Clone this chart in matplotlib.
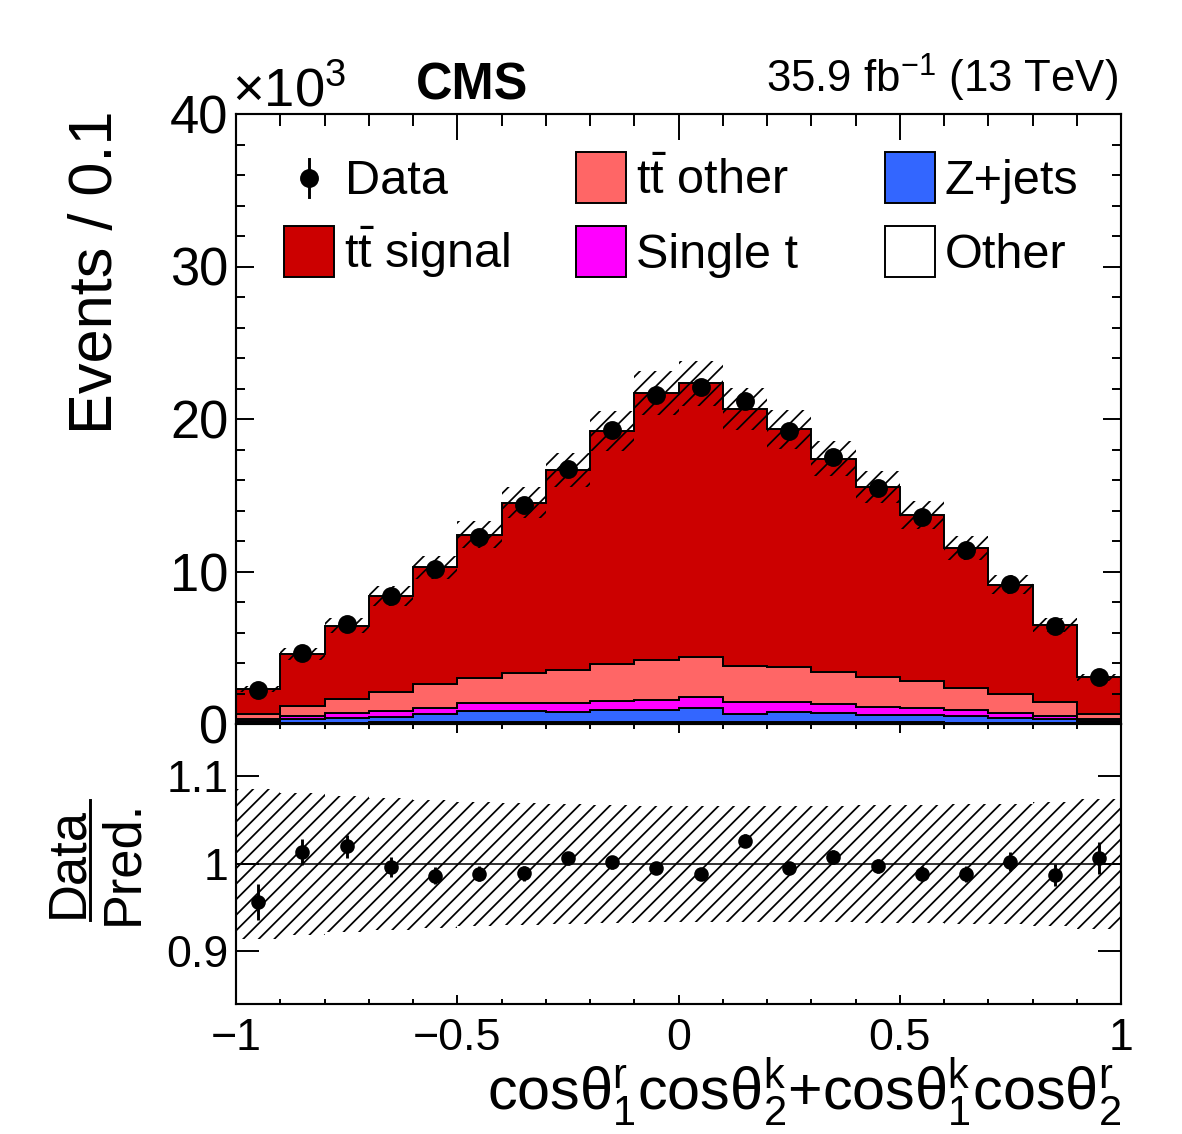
import numpy as np
import matplotlib
matplotlib.use("Agg")
import matplotlib.pyplot as plt
import matplotlib.ticker as mticker
from matplotlib.patches import Rectangle
from matplotlib.lines import Line2D

plt.rcParams["font.family"] = "Liberation Sans"
plt.rcParams["mathtext.fontset"] = "custom"
plt.rcParams["mathtext.rm"] = "Liberation Sans"
plt.rcParams["mathtext.it"] = "Liberation Sans"
plt.rcParams["mathtext.sf"] = "Liberation Sans"
plt.rcParams["mathtext.bf"] = "Liberation Sans:bold"
plt.rcParams["hatch.linewidth"] = 0.9
plt.rcParams["axes.linewidth"] = 1.1

# binning of cos(theta1^r)cos(theta2^k) + cos(theta1^k)cos(theta2^r)
bin_edges = [-1.0, -0.9, -0.8, -0.7, -0.6, -0.5, -0.4, -0.3, -0.2, -0.1, 0.0,
             0.1, 0.2, 0.3, 0.4, 0.5, 0.6, 0.7, 0.8, 0.9, 1.0]

# events per bin, in units of 10^3
other = [0.06, 0.08, 0.09, 0.10, 0.11, 0.12, 0.12, 0.12, 0.13, 0.13,
         0.13, 0.13, 0.12, 0.12, 0.11, 0.10, 0.09, 0.08, 0.07, 0.06]
zjets = [0.16, 0.27, 0.33, 0.38, 0.55, 0.71, 0.71, 0.67, 0.79, 0.79,
         0.94, 0.53, 0.65, 0.60, 0.50, 0.47, 0.41, 0.29, 0.24, 0.14]
single_t = [0.09, 0.15, 0.28, 0.37, 0.41, 0.53, 0.53, 0.57, 0.59, 0.65,
            0.72, 0.76, 0.65, 0.57, 0.53, 0.46, 0.40, 0.37, 0.24, 0.11]
tt_other = [0.35, 0.68, 0.96, 1.23, 1.53, 1.68, 1.96, 2.20, 2.40, 2.63,
            2.58, 2.41, 2.34, 2.12, 1.94, 1.81, 1.48, 1.21, 0.87, 0.35]
tt_signal = [1.64, 3.41, 4.79, 6.31, 7.68, 9.37, 11.19, 13.08, 15.30, 17.49,
             17.97, 16.83, 15.56, 13.99, 12.44, 10.89, 9.18, 7.19, 5.07, 2.40]
data = [2.201, 4.651, 6.579, 8.361, 10.143, 12.273, 14.355, 16.748, 19.248, 21.582,
        22.094, 21.212, 19.231, 17.539, 15.478, 13.579, 11.428, 9.165, 6.408, 3.081]
# relative total uncertainty of the prediction
pred_unc = [0.086, 0.081, 0.078, 0.075, 0.073, 0.071, 0.070, 0.068, 0.067, 0.066,
            0.066, 0.066, 0.066, 0.066, 0.067, 0.067, 0.068, 0.069, 0.071, 0.074]

W, H, DPI = 1182, 1134, 140


def fx(x):
    return x / W


def fy(y):
    return 1 - y / H


edges = np.array(bin_edges)
centers = 0.5 * (edges[:-1] + edges[1:])
data_arr = np.array(data)
data_err = np.sqrt(data_arr * 1000) / 1000
unc = np.array(pred_unc)

fig = plt.figure(figsize=(W / DPI, H / DPI), dpi=DPI)
ax = fig.add_axes([fx(236), fy(724), fx(1121) - fx(236), fy(114) - fy(724)])
rax = fig.add_axes([fx(236), fy(1004), fx(1121) - fx(236), fy(724) - fy(1004)])

layers = [
    (other, "white"),
    (zjets, "#3366ff"),
    (single_t, "#ff00ff"),
    (tt_other, "#ff6666"),
    (tt_signal, "#cc0000"),
]
base = np.zeros(len(centers))
for vals, col in layers:
    top = base + np.array(vals)
    ax.stairs(top, edges, baseline=base, fill=True, facecolor=col,
              edgecolor="black", linewidth=1.0)
    base = top
total = base

# uncertainty band as one hatched patch
ax.stairs(total * (1 + unc), edges, baseline=total * (1 - unc), fill=True,
          facecolor="none", edgecolor="black", linewidth=0, hatch="///")
ax.errorbar(centers, data_arr, yerr=data_err, fmt="o", color="black",
            ms=8.7, elinewidth=1.5, capsize=0, zorder=5)

ax.set_xlim(-1, 1)
ax.set_ylim(0, 40)
ax.xaxis.set_major_locator(mticker.MultipleLocator(0.5))
ax.xaxis.set_minor_locator(mticker.MultipleLocator(0.1))
ax.yaxis.set_major_locator(mticker.MultipleLocator(10))
ax.yaxis.set_minor_locator(mticker.MultipleLocator(2))
ax.tick_params(axis="x", which="both", direction="in", top=True, bottom=False,
               labelbottom=False, width=1)
ax.tick_params(axis="x", which="major", length=13.4)
ax.tick_params(axis="x", which="minor", length=6.2)
ax.tick_params(axis="y", which="both", direction="in", left=True, right=True,
               width=1, labelsize=27, pad=4)
ax.tick_params(axis="y", which="major", length=9.3)
ax.tick_params(axis="y", which="minor", length=4.6)

# ratio panel
ratio = data_arr / total
ratio_err = data_err / total
rax.stairs(1 + unc, edges, baseline=1 - unc, fill=True,
           facecolor="none", edgecolor="black", linewidth=0, hatch="///")
rax.axhline(1.0, color="black", lw=0.8)
rax.errorbar(centers, ratio, yerr=ratio_err, fmt="o", color="black",
             ms=6.5, elinewidth=1.5, capsize=0, zorder=5)
rax.set_xlim(-1, 1)
rax.set_ylim(0.84, 1.16)
rax.xaxis.set_major_locator(mticker.MultipleLocator(0.5))
rax.xaxis.set_minor_locator(mticker.MultipleLocator(0.1))
rax.xaxis.set_major_formatter(mticker.FuncFormatter(lambda v, p: ("%g" % v).replace("-", "\u2212")))
rax.set_yticks([0.9, 1.0, 1.1])
rax.set_yticklabels(["0.9", "1", "1.1"])
rax.tick_params(axis="x", which="both", direction="in", top=True, bottom=True,
                width=1, labelsize=23, pad=7)
rax.tick_params(axis="x", which="major", length=4.6)
rax.tick_params(axis="x", which="minor", length=2.6)
rax.tick_params(axis="y", which="major", direction="in", left=True, right=True,
                length=11.8, width=1, labelsize=23, pad=4)

# legend, drawn by hand in the ROOT layout
def ax_xy(x, y):
    return (x - 236) / 885, (724 - y) / 610


leg_boxes = [
    (576, 152, "#ff6666", r"t$\bar{\mathrm{t}}$ other"),
    (885, 152, "#3366ff", "Z+jets"),
    (284, 226, "#cc0000", r"t$\bar{\mathrm{t}}$ signal"),
    (576, 226, "#ff00ff", "Single t"),
    (885, 226, "white", "Other"),
]
for x0, y0, col, label in leg_boxes:
    bx, by = ax_xy(x0, y0 + 51)
    ax.add_patch(Rectangle((bx, by), 50 / 885, 51 / 610, transform=ax.transAxes,
                           facecolor=col, edgecolor="black", lw=1.0, zorder=6))
    tx, ty = ax_xy(x0 + 60, y0 + 42)
    ax.text(tx, ty, label, transform=ax.transAxes, fontsize=25, va="baseline", ha="left")

mx, my = ax_xy(309, 178)
ax.plot([mx], [my], "o", color="black", ms=8.7, transform=ax.transAxes, zorder=6)
ax.plot([mx, mx], [my - 19 / 610, my + 19 / 610], color="black", lw=1.5,
        transform=ax.transAxes, zorder=6)
tx, ty = ax_xy(345, 194)
ax.text(tx, ty, "Data", transform=ax.transAxes, fontsize=25, va="baseline", ha="left")

# texts around the frame
fig.text(fx(416), fy(100), "CMS", fontsize=26, fontweight="bold", va="baseline", ha="left")
fig.text(fx(1118), fy(93), r"35.9 fb$^{\mathrm{-1}}$ (13 TeV)", fontsize=22.5,
         va="baseline", ha="right")
fig.text(fx(232), fy(106), r"$\times$10$^{3}$", fontsize=28, va="baseline", ha="left")
fig.text(fx(112), fy(110), "Events / 0.1", fontsize=31.5, rotation=90,
         rotation_mode="anchor", ha="right", va="baseline")

fig.text(fx(82), fy(862), "Data", fontsize=27, rotation=90,
         rotation_mode="anchor", ha="center", va="baseline")
fig.text(fx(137), fy(862), "Pred.", fontsize=27, rotation=90,
         rotation_mode="anchor", ha="center", va="baseline")
fig.add_artist(Line2D([fx(90), fx(90)], [fy(800), fy(920)], color="black", lw=1.5))

fig.text(fx(1121), fy(1111),
         r"cos$\mathrm{\theta}_{1}^{r}$cos$\mathrm{\theta}_{2}^{k}$+cos$\mathrm{\theta}_{1}^{k}$cos$\mathrm{\theta}_{2}^{r}$",
         fontsize=30.5, va="baseline", ha="right")

fig.savefig("out.png", dpi=DPI)
plt.close(fig)
